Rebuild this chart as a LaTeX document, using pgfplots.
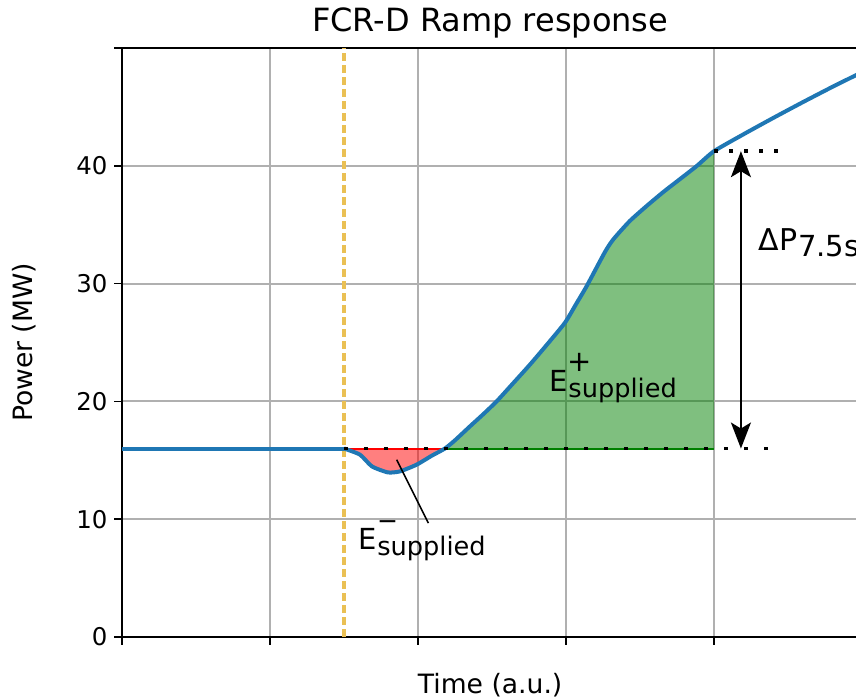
\documentclass[border=0pt]{standalone}
\usepackage{pgfplots}
\pgfplotsset{compat=1.18}
\usepackage{pgfplotstable}
\usepackage{fontspec}
\setmainfont{DejaVu Sans}
\usetikzlibrary{arrows.meta}
\definecolor{mplblue}{HTML}{1F77B4}
\definecolor{vline}{RGB}{234,192,84}
\definecolor{gridc}{HTML}{B0B0B0}

\pgfplotstableread{
x y
1.5   16
1.608 15.48
1.689 14.48
1.797 13.97
1.878 14.06
1.991 14.63
2.093 15.39
2.182 16.0
2.25  16.7
2.351 17.88
2.44  18.9
2.532 20.01
2.64  21.5
2.757 23.13
2.87  24.8
2.993 26.68
3.07  28.3
3.140 29.79
3.264 32.7
3.320 33.76
3.43  35.3
3.545 36.59
3.66  37.8
3.770 38.87
3.885 40.0
4.0   41.24
4.2   42.68
4.4   44.06
4.6   45.40
4.8   46.70
4.975 47.79
}\curvedata

\begin{document}
\begin{tikzpicture}
\begin{axis}[
  at={(0,0)}, anchor=south west,
  scale only axis, width=368.15pt, height=294.5pt,
  xmin=0, xmax=4.975, ymin=0, ymax=50,
  xtick={0,1,2,3,4}, xticklabels={},
  ytick={0,10,20,30,40,50}, yticklabels={0,10,20,30,40,{}},
  xtick pos=bottom, ytick pos=left,
  tick align=outside,
  major tick length=3.8pt,
  every tick/.style={black, line width=0.75pt},
  axis line style={black, line width=1.15pt},
  grid=major, grid style={gridc, line width=1pt},
  tick label style={font=\fontsize{12.2}{14}\selectfont},
  /pgf/number format/assume math mode=true,
  every axis title shift=0pt,
  title={FCR-D Ramp response},
  title style={at={(axis description cs:0.5,1.0272)}, anchor=base, yshift=0pt, font=\fontsize{16}{19}\selectfont},
  xlabel={Time (a.u.)},
  xlabel style={at={(axis description cs:0.5,-0.0951)}, anchor=base, font=\fontsize{13.3}{16}\selectfont},
  ylabel={Power (MW)},
  ylabel style={at={(axis description cs:-0.1209,0.5)}, anchor=base, font=\fontsize{13.3}{16}\selectfont},
]
% vertical dashed line
\addplot[vline, line width=2pt, dash pattern=on 4pt off 2pt] coordinates {(1.5,0) (1.5,50)};
% fills
\addplot[draw=none, fill=red, fill opacity=0.5] coordinates {
(1.5,16) (1.608,15.48) (1.689,14.48) (1.797,13.97) (1.878,14.06) (1.991,14.63) (2.093,15.39) (2.182,16)} -- cycle;
\addplot[draw=none, fill=green!50!black, fill opacity=0.5] coordinates {
(2.182,16) (2.25,16.7) (2.351,17.88) (2.44,18.9) (2.532,20.01) (2.64,21.5) (2.757,23.13) (2.87,24.8) (2.993,26.68) (3.07,28.3) (3.140,29.79) (3.264,32.7) (3.320,33.76) (3.43,35.3) (3.545,36.59) (3.66,37.8) (3.770,38.87) (3.885,40.0) (4.0,41.24) (4.0,16)} -- cycle;
\addplot[red, line width=1pt] coordinates {(1.5,16) (2.182,16)};
\addplot[green!50!black, line width=1pt] coordinates {(2.182,16) (4.0,16)};
% main curve
\addplot[mplblue, line width=2pt, line join=round] coordinates {(0,16) (1.5,16)};
\addplot[mplblue, line width=2pt, line join=round, smooth, tension=0.35] table {\curvedata};
% dotted reference lines
\addplot[black, line width=1.8pt, dash pattern=on 1.8pt off 8.2pt] coordinates {(1.5,16) (4.37,16)};
\addplot[black, line width=1.8pt, dash pattern=on 1.8pt off 5.7pt] coordinates {(4.0,41.24) (4.43,41.24)};
% double arrow
\addplot[black, line width=1pt, {Stealth[length=13pt,width=10pt,inset=3pt]}-{Stealth[length=13pt,width=10pt,inset=3pt]}] coordinates {(4.182,16) (4.182,41.24)};
% pointer line
\addplot[black, line width=0.75pt] coordinates {(1.856,15.05) (2.07,9.67)};
% texts
\node[anchor=base west, inner sep=0pt, font=\fontsize{14.5}{17}\selectfont] at (axis cs:2.885,20.86) {E};
\node[anchor=base west, inner sep=0pt, font=\fontsize{12.8}{15}\selectfont] at (axis cs:3.014,20.33) {supplied};
\node[anchor=base, inner sep=0pt, font=\fontsize{14.5}{17}\selectfont] at (axis cs:3.095,22.5) {+};
\node[anchor=base west, inner sep=0pt, font=\fontsize{14.5}{17}\selectfont] at (axis cs:1.595,7.40) {E};
\node[anchor=base west, inner sep=0pt, font=\fontsize{12.8}{15}\selectfont] at (axis cs:1.723,6.89) {supplied};
\node[anchor=base, inner sep=0pt, font=\fontsize{12.5}{15}\selectfont] at (axis cs:1.794,9.14) {−};
\node[anchor=base west, inner sep=0pt, font=\fontsize{15}{17}\selectfont] at (axis cs:4.30,32.85) {ΔP};
\node[anchor=base west, inner sep=0pt, font=\fontsize{14.5}{17}\selectfont] at (axis cs:4.565,32.34) {7.5s};
\end{axis}
\pgfresetboundingbox
\useasboundingbox (-61pt,-31.5pt) rectangle (367pt,318.5pt);
\end{tikzpicture}
\end{document}
